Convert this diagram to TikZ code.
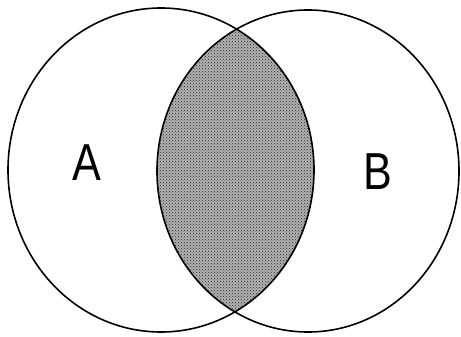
\documentclass[tikz,border=0pt]{standalone}
\usepackage{fontspec}
\setmainfont{Liberation Sans}
\usetikzlibrary{patterns}
\begin{document}
\begin{tikzpicture}[x=1pt,y=-1pt,
  setline/.style={draw=black,line width=1.6pt},
  setlabel/.style={font=\fontsize{52}{52}\selectfont,inner sep=0pt}]
\useasboundingbox (0,0) rectangle (461,337);
\fill[white] (0,0) rectangle (461,337);
\begin{scope}
  \clip (161,170) ellipse [x radius=153, y radius=162];
  \fill[black!30] (308,171) ellipse [x radius=151, y radius=161];
  \fill[pattern=crosshatch dots, pattern color=black!85] (308,171) ellipse [x radius=151, y radius=161];
\end{scope}
\draw[setline] (161,170) ellipse [x radius=153, y radius=162];
\draw[setline] (308,171) ellipse [x radius=151, y radius=161];
\node[setlabel] (labA) at (87,163) {\scalebox{0.83}[1]{A}};
\node[setlabel] (labB) at (378,172) {\scalebox{0.83}[1]{B}};
\end{tikzpicture}
\end{document}
